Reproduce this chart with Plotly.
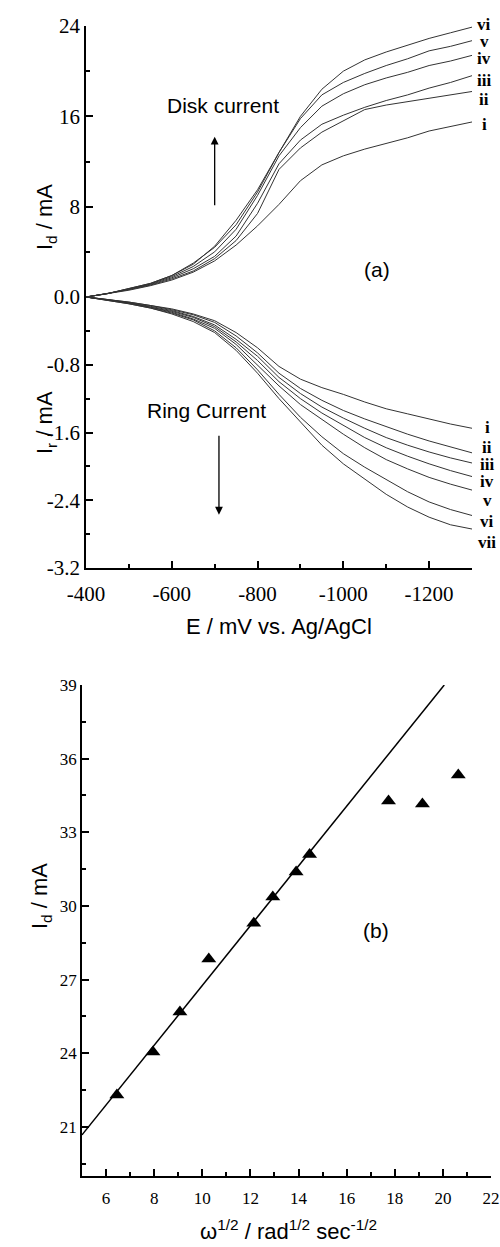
import plotly.graph_objects as go

# ---------------- data: panel (a) ----------------
E_mV = [-400, -450, -500, -550, -600, -650, -700, -750, -800, -850, -900,
        -950, -1000, -1050, -1100, -1150, -1200, -1250, -1300]

disk_labels = ["i", "ii", "iii", "iv", "v", "vi"]
disk_i   = [0, 0.3, 0.6, 1.0, 1.5, 2.2, 3.2, 4.6, 6.3, 8.2, 10.3, 11.7, 12.5, 13.1, 13.6, 14.1, 14.7, 15.1, 15.5]
disk_ii  = [0, 0.3, 0.65, 1.05, 1.6, 2.3, 3.4, 5.0, 7.4, 11.3, 13.2, 14.6, 15.6, 16.6, 17.0, 17.3, 17.6, 17.9, 18.2]
disk_iii = [0, 0.3, 0.7, 1.1, 1.7, 2.5, 3.6, 5.4, 8.3, 11.8, 13.9, 15.3, 16.1, 16.8, 17.4, 17.9, 18.5, 19.0, 19.6]
disk_iv  = [0, 0.3, 0.7, 1.15, 1.8, 2.7, 4.0, 6.0, 9.0, 12.5, 15.0, 16.9, 18.0, 18.8, 19.4, 19.9, 20.5, 20.9, 21.4]
disk_v   = [0, 0.3, 0.75, 1.2, 1.9, 2.9, 4.5, 6.8, 9.5, 12.8, 15.8, 17.9, 19.0, 19.8, 20.5, 21.1, 21.8, 22.2, 22.7]
disk_vi  = [0, 0.3, 0.75, 1.2, 1.9, 3.0, 4.4, 6.4, 9.3, 12.8, 16.0, 18.4, 20.0, 21.0, 21.7, 22.3, 22.9, 23.4, 23.9]
disk_series = [disk_i, disk_ii, disk_iii, disk_iv, disk_v, disk_vi]

ring_labels = ["i", "ii", "iii", "iv", "v", "vi", "vii"]
ring_i   = [0, -0.03, -0.06, -0.10, -0.14, -0.20, -0.28, -0.42, -0.60, -0.82, -0.97, -1.07, -1.15, -1.24, -1.32, -1.38, -1.44, -1.50, -1.55]
ring_ii  = [0, -0.03, -0.06, -0.10, -0.15, -0.21, -0.30, -0.46, -0.66, -0.90, -1.08, -1.22, -1.34, -1.44, -1.53, -1.62, -1.70, -1.77, -1.84]
ring_iii = [0, -0.03, -0.07, -0.11, -0.16, -0.23, -0.33, -0.50, -0.70, -0.95, -1.14, -1.30, -1.43, -1.55, -1.66, -1.75, -1.83, -1.90, -1.96]
ring_iv  = [0, -0.035, -0.07, -0.12, -0.17, -0.24, -0.35, -0.53, -0.75, -1.00, -1.20, -1.37, -1.52, -1.66, -1.78, -1.88, -1.97, -2.05, -2.12]
ring_v   = [0, -0.035, -0.07, -0.12, -0.18, -0.26, -0.37, -0.56, -0.80, -1.05, -1.27, -1.45, -1.62, -1.78, -1.92, -2.03, -2.13, -2.21, -2.28]
ring_vi  = [0, -0.04, -0.08, -0.13, -0.19, -0.27, -0.40, -0.60, -0.86, -1.15, -1.42, -1.65, -1.85, -2.01, -2.15, -2.30, -2.42, -2.51, -2.58]
ring_vii = [0, -0.04, -0.08, -0.13, -0.20, -0.29, -0.42, -0.63, -0.90, -1.20, -1.48, -1.75, -1.97, -2.15, -2.33, -2.48, -2.60, -2.69, -2.74]
ring_series = [ring_i, ring_ii, ring_iii, ring_iv, ring_v, ring_vi, ring_vii]

xa_ticks = [-400, -600, -800, -1000, -1200]
xa_ticktext = ["-400", "-600", "-800", "-1000", "-1200"]
disk_ticks = [8, 16, 24]
ring_ticks = [0, -0.8, -1.6, -2.4, -3.2]
ring_ticktext = ["0.0", "-0.8", "-1.6", "-2.4", "-3.2"]

# ---------------- data: panel (b) ----------------
omega_sqrt = [6.45, 7.95, 9.07, 10.27, 12.14, 12.93, 13.9, 14.46, 17.74, 19.15, 20.64]
Id_b = [22.3, 24.05, 25.68, 27.84, 29.3, 30.36, 31.38, 32.1, 34.27, 34.15, 35.33]
fit_slope = 1.217
fit_intercept = 14.59
xb_ticks = [6, 8, 10, 12, 14, 16, 18, 20, 22]
yb_ticks = [21, 24, 27, 30, 33, 36, 39]

SERIF = "Liberation Serif"
SANS = "Liberation Sans"
W, H = 500, 1247

# label pixel rows (layout, not data)
disk_label_px = [124, 100, 80, 59, 42, 25]
ring_label_px = [427, 447, 464, 482, 501, 521, 542]

fig = go.Figure()

for s in ring_series:
    fig.add_trace(go.Scatter(x=E_mV, y=s, mode="lines", xaxis="x", yaxis="y",
                             line=dict(color="#333333", width=1), showlegend=False))
for s in disk_series:
    fig.add_trace(go.Scatter(x=E_mV, y=s, mode="lines", xaxis="x", yaxis="y2",
                             line=dict(color="#333333", width=1), showlegend=False))

fit_x = [5, (39 - fit_intercept) / fit_slope]
fit_y = [fit_slope * v + fit_intercept for v in fit_x]
fig.add_trace(go.Scatter(x=fit_x, y=fit_y, mode="lines", xaxis="x2", yaxis="y3",
                         line=dict(color="black", width=1.5), showlegend=False))
fig.add_trace(go.Scatter(x=omega_sqrt, y=Id_b, mode="markers", xaxis="x2", yaxis="y3",
                         marker=dict(symbol="triangle-up", size=13, color="black"),
                         showlegend=False, cliponaxis=False))

def py(px):
    return 1 - px / H

axis_common = dict(showline=True, linewidth=1.5, linecolor="black", showgrid=False,
                   zeroline=False, ticks="inside", ticklen=7, tickwidth=1.5,
                   tickcolor="black", mirror=False)

def minor(vals):
    return dict(ticks="inside", ticklen=4, tickwidth=1.5, tickcolor="black",
                tickmode="array", tickvals=vals)

fig.update_layout(
    width=W, height=H, margin=dict(l=0, r=0, t=0, b=0, autoexpand=False),
    paper_bgcolor="white", plot_bgcolor="white",
    xaxis=dict(axis_common, domain=[86 / W, 472 / W], anchor="y", range=[-400, -1300],
               tickmode="array", tickvals=xa_ticks, ticktext=xa_ticktext,
               tickfont=dict(family=SERIF, size=21, color="black"), ticklabelstandoff=6,
               minor=minor([-500, -700, -900, -1100, -1300])),
    yaxis=dict(axis_common, domain=[py(568), py(297)], anchor="x", range=[-3.2, 0],
               tickmode="array", tickvals=ring_ticks, ticktext=ring_ticktext,
               tickfont=dict(family=SERIF, size=21, color="black"),
               minor=minor([-0.4, -1.2, -2.0, -2.8])),
    yaxis2=dict(axis_common, domain=[py(297), py(26)], anchor="x", range=[0, 24],
                tickmode="array", tickvals=disk_ticks,
                tickfont=dict(family=SERIF, size=21, color="black"),
                minor=minor([4, 12, 20])),
    xaxis2=dict(axis_common, domain=[82 / W, 491 / W], anchor="y3", range=[5, 22],
                tickmode="array", tickvals=xb_ticks,
                tickfont=dict(family=SERIF, size=17, color="black"), ticklabelstandoff=6,
                minor=minor([7, 9, 11, 13, 15, 17, 19, 21])),
    yaxis3=dict(axis_common, domain=[py(1176), py(685)], anchor="x2", range=[19, 39],
                tickmode="array", tickvals=yb_ticks,
                tickfont=dict(family=SERIF, size=17, color="black"),
                minor=minor([19.5, 22.5, 25.5, 28.5, 31.5, 34.5, 37.5])),
)

ann = []
sans_font = dict(family=SANS, size=21, color="black")
title_font = dict(family=SANS, size=22, color="black")
# axis titles
ann.append(dict(text="I<sub>d</sub> / mA", xref="paper", yref="paper", x=30 / W, y=py(182),
                textangle=-90, showarrow=False, font=title_font))
ann.append(dict(text="I<sub>r</sub> / mA", xref="paper", yref="paper", x=30 / W, y=py(423),
                textangle=-90, showarrow=False, font=title_font))
ann.append(dict(text="E / mV vs. Ag/AgCl", xref="paper", yref="paper", x=279 / W, y=py(627),
                showarrow=False, font=title_font))
ann.append(dict(text="I<sub>d</sub> / mA", xref="paper", yref="paper", x=25 / W, y=py(931),
                textangle=-90, showarrow=False, font=title_font))
ann.append(dict(text="ω<sup>1/2</sup> / rad<sup>1/2</sup> sec<sup>-1/2</sup>", xref="paper",
                yref="paper", x=288 / W, y=py(1246), yanchor="bottom", showarrow=False,
                font=title_font))
# in-plot texts
ann.append(dict(text="Disk current", xref="x", yref="y2", x=-719, y=17.0, showarrow=False,
                font=sans_font))
ann.append(dict(text="(a)", xref="x", yref="y2", x=-1078, y=2.4, showarrow=False,
                font=sans_font))
ann.append(dict(text="Ring Current", xref="x", yref="y", x=-682, y=-1.34, showarrow=False,
                font=sans_font))
ann.append(dict(text="(b)", xref="x2", yref="y3", x=17.24, y=29.0, showarrow=False,
                font=sans_font))
# arrows
ann.append(dict(text="", xref="x", yref="y2", x=-700, y=14.2, axref="x", ayref="y2",
                ax=-700, ay=8.0, showarrow=True, arrowhead=2, arrowsize=1.2, arrowwidth=1.3,
                arrowcolor="black"))
ann.append(dict(text="", xref="x", yref="y", x=-710, y=-2.57, axref="x", ayref="y",
                ax=-710, ay=-1.62, showarrow=True, arrowhead=2, arrowsize=1.2, arrowwidth=1.3,
                arrowcolor="black"))
# curve labels
lab_font = dict(family=SERIF, size=17, color="black")
for lab, ypx in zip(disk_labels, disk_label_px):
    ann.append(dict(text="<b>%s</b>" % lab, xref="paper", yref="paper", x=484 / W, y=py(ypx),
                    xanchor="center", yanchor="middle", showarrow=False, font=lab_font))
for lab, ypx in zip(ring_labels, ring_label_px):
    ann.append(dict(text="<b>%s</b>" % lab, xref="paper", yref="paper", x=487 / W, y=py(ypx),
                    xanchor="center", yanchor="middle", showarrow=False, font=lab_font))

fig.update_layout(annotations=ann)
fig.write_html("out.html", config={"displayModeBar": False},
               post_script="document.body.style.margin='0px';"
                           "document.body.style.overflow='hidden';")
